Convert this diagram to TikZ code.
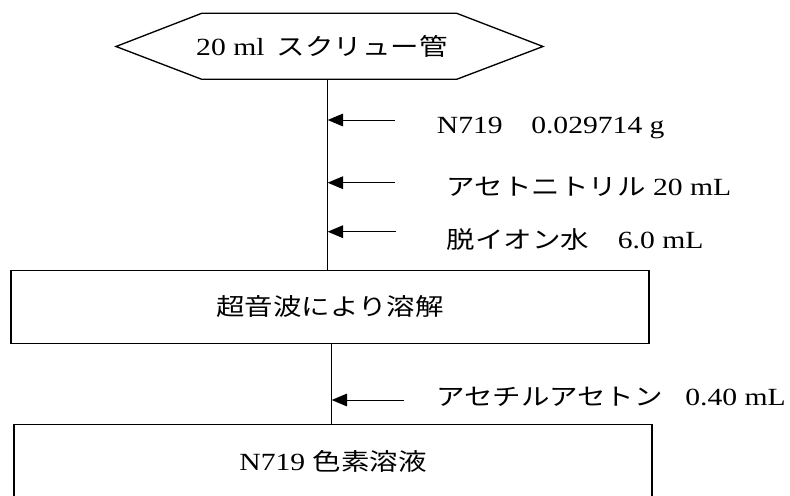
\documentclass[tikz,border=0pt]{standalone}
\usepackage{fontspec}
\usetikzlibrary{arrows.meta}
\setmainfont{Liberation Serif}[FakeStretch=1.2,Scale=1.04]
\newfontfamily\jp{Noto Sans CJK JP}[FakeStretch=1.2]
\newcommand\JP[1]{{\jp #1}}
\begin{document}
\begin{tikzpicture}[x=0.75pt,y=-0.75pt,
  txt/.style={inner sep=0pt,font=\fontsize{17.8}{20}\selectfont},
  box/.style={draw=black,line width=0.9pt,minimum width=478.5pt,inner sep=0pt},
  vline/.style={draw=black,line width=0.75pt},
  arr/.style={draw=black,line width=0.75pt,-{Triangle[length=11.5pt,width=9.5pt]}}]
\useasboundingbox (0,0) rectangle (790,496);
\clip (0,0) rectangle (790,496);
% hexagon start
\draw[line width=1pt] (116,46.5) -- (201.7,13.3) -- (456.7,13.3) -- (543,46.5) -- (456.7,79.3) -- (201.7,79.3) -- cycle;
\node[txt] (hex) at (322,46.5) {20 ml\hspace{0.5em}\JP{スクリュー管}};
\coordinate (hexb) at (327.7,79.3);
% box 1
\node[box,minimum height=54.75pt] (b1) at (330,306.7) {};
\node[txt] (b1t) at (b1.center) {\JP{超音波により溶解}};
% box 2
\node[box,minimum height=56.25pt] (b2) at (333,461.8) {};
\node[txt] (b2t) at (b2.center) {N719 \JP{色素溶液}};
% vertical connectors
\draw[vline] (hexb) -- (hexb |- b1.north);
\coordinate (b1b) at (331.7,343.3);
\draw[vline] (b1b) -- (b1b |- b2.north);
% additions
\node[txt,anchor=base west] (a1) at (436.7,133.3) {N719\JP{　}0.029714 g};
\node[txt,anchor=base west] (a2) at (446.7,195) {\JP{アセトニトリル} 20 mL};
\node[txt,anchor=base west] (a3) at (446.7,248.3) {\JP{脱イオン水　}6.0 mL};
\node[txt,anchor=base east] (a4) at (786,405) {\JP{アセチルアセトン\hspace{0.95em}}0.40 mL};
\coordinate (t1) at (395,120);
\coordinate (t2) at (395,182.7);
\coordinate (t3) at (396,231.7);
\coordinate (t4) at (404,400);
\draw[arr] (t1) -- (hexb |- t1);
\draw[arr] (t2) -- (hexb |- t2);
\draw[arr] (t3) -- (hexb |- t3);
\draw[arr] (t4) -- (b1b |- t4);
\end{tikzpicture}
\end{document}
